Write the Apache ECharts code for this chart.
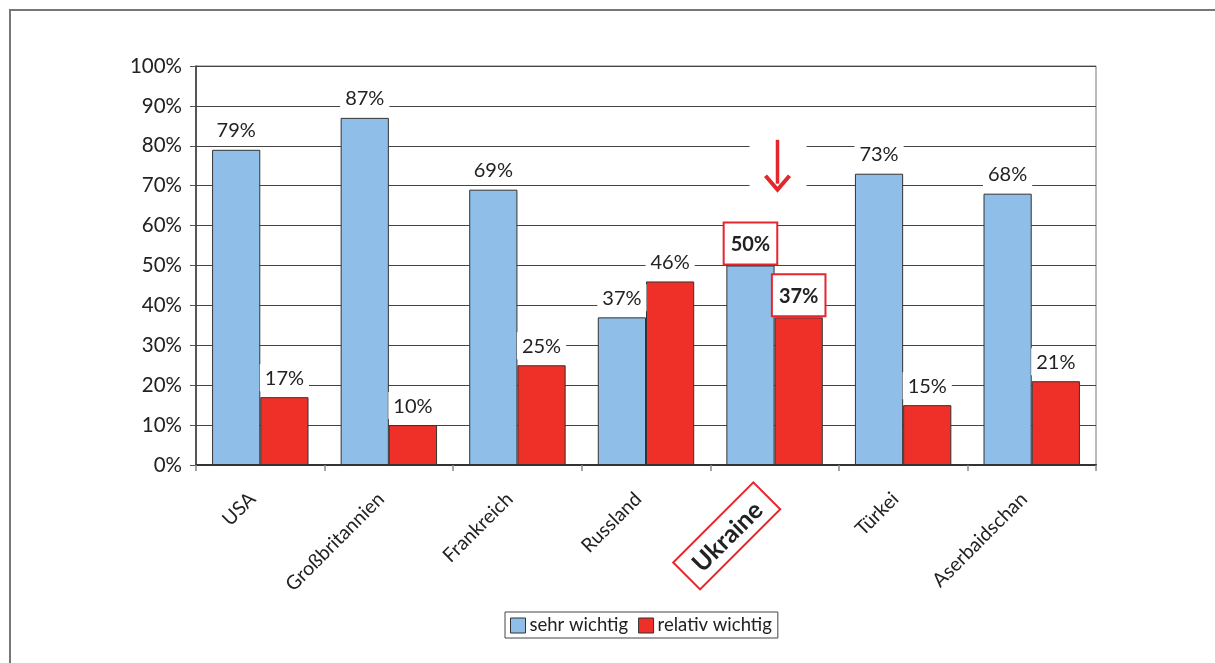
<!DOCTYPE html>
<html>
<head>
<meta charset="utf-8">
<script src="https://cdn.jsdelivr.net/npm/echarts@6/dist/echarts.min.js"></script>
<style>
  html, body { margin: 0; padding: 0; background: #fff; }
  #chart { width: 1215px; height: 663px; }
</style>
</head>
<body>
<div id="chart"></div>
<script>
// Countries on the x axis
const categories = ['USA', 'Großbritannien', 'Frankreich', 'Russland', 'Ukraine', 'Türkei', 'Aserbaidschan'];
// Share of answers (percent)
const sehrWichtig = [79, 87, 69, 37, 50, 73, 68];
const relativWichtig = [17, 10, 25, 46, 37, 15, 21];
const seriesNames = ['sehr wichtig', 'relativ wichtig'];
// Country that is emphasised with framed labels and an arrow
const highlighted = 'Ukraine';

const FONT = 'Lato, "Open Sans", sans-serif';
const BLUE = '#8fbfe8';
const RED = '#ee3029';
const FRAME_RED = '#e5262c';

function toItems(values) {
  return values.map((v, i) => {
    if (categories[i] !== highlighted) return v;
    return {
      value: v,
      label: {
        fontWeight: 'bold',
        fontSize: 20,
        borderColor: FRAME_RED,
        borderWidth: 2,
        padding: [11, 6, 9, 6],
        distance: 2
      }
    };
  });
}

const valueLabel = {
  show: true,
  position: 'top',
  distance: 6,
  formatter: '{c}%',
  fontFamily: FONT,
  fontSize: 20,
  color: '#222',
  backgroundColor: '#fff',
  padding: [4, 5, 3, 5]
};

const chart = echarts.init(document.getElementById('chart'), null, { renderer: 'canvas' });

chart.setOption({
  animation: false,
  backgroundColor: '#fff',
  textStyle: { fontFamily: FONT },
  grid: {
    left: 196, right: 119, top: 66, bottom: 198,
    show: true, borderColor: '#777', borderWidth: 1, backgroundColor: 'transparent'
  },
  legend: {
    data: seriesNames,
    left: 505, top: 612,
    orient: 'horizontal',
    itemWidth: 15, itemHeight: 15, itemGap: 10,
    icon: 'rect',
    borderColor: '#444', borderWidth: 1,
    padding: [4, 6, 3, 5],
    textStyle: { fontFamily: FONT, fontSize: 18.5, color: '#222', padding: [0, 0, 0, -1] },
    itemStyle: { borderColor: '#333', borderWidth: 1 }
  },
  xAxis: {
    type: 'category',
    data: categories,
    boundaryGap: true,
    axisLine: { lineStyle: { color: '#333', width: 2 } },
    axisTick: { show: true, length: 6, lineStyle: { color: '#888', width: 1.5 } },
    axisLabel: {
      rotate: 45,
      margin: 23,
      fontFamily: FONT,
      fontSize: 19.5,
      color: '#222',
      padding: [0, 11, 0, 0],
      formatter: v => v === highlighted ? '{hl|' + v + '}' : v,
      rich: {
        hl: {
          fontFamily: FONT,
          fontSize: 25,
          fontWeight: 'bold',
          color: '#222',
          borderColor: FRAME_RED,
          borderWidth: 2,
          padding: [8, 13, 5, 13]
        }
      }
    }
  },
  yAxis: {
    type: 'value',
    min: 0, max: 100, interval: 10,
    axisLine: { show: true, lineStyle: { color: '#333', width: 1.5 } },
    axisTick: { show: true, inside: false, length: 6, lineStyle: { color: '#555' } },
    splitLine: { show: true, lineStyle: { color: '#444', width: 1 } },
    axisLabel: {
      formatter: '{value}%',
      margin: 14,
      fontFamily: FONT,
      fontSize: 20.5,
      color: '#222'
    }
  },
  series: [
    {
      name: seriesNames[0],
      type: 'bar',
      data: toItems(sehrWichtig),
      barGap: '0%',
      barCategoryGap: '25%',
      itemStyle: { color: BLUE, borderColor: '#333', borderWidth: 1 },
      label: valueLabel
    },
    {
      name: seriesNames[1],
      type: 'bar',
      data: toItems(relativWichtig),
      barGap: '0%',
      barCategoryGap: '25%',
      itemStyle: { color: RED, borderColor: '#333', borderWidth: 1 },
      label: valueLabel
    }
  ]
});

// Arrow pointing down at the highlighted country, plus the page frame
const arrowTopValue = 81.5;
const arrowTipValue = 69;
const arrowStart = chart.convertToPixel({ gridIndex: 0 }, [highlighted, arrowTopValue]);
const arrowEnd = chart.convertToPixel({ gridIndex: 0 }, [highlighted, arrowTipValue]);
const ax = Math.round(arrowStart[0]) + 2.5;
chart.setOption({
  graphic: [
    {
      type: 'polyline',
      shape: { points: [[10, 663], [10, 10], [1215, 10]] },
      style: { stroke: '#777', lineWidth: 2, fill: null },
      silent: true
    },
    {
      type: 'group',
      silent: true,
      children: [
        {
          type: 'rect',
          shape: { x: ax - 28, y: arrowStart[1] - 4, width: 57, height: arrowEnd[1] - arrowStart[1] + 10 },
          style: { fill: '#fff' }
        },
        {
          type: 'line',
          shape: { x1: ax, y1: arrowStart[1], x2: ax, y2: arrowEnd[1] - 6 },
          style: { stroke: FRAME_RED, lineWidth: 3.5 }
        },
        {
          type: 'polyline',
          shape: { points: [[ax - 12, arrowEnd[1] - 14], [ax, arrowEnd[1]], [ax + 12, arrowEnd[1] - 14]] },
          style: { stroke: FRAME_RED, lineWidth: 4, fill: null, lineJoin: 'miter' }
        }
      ]
    }
  ]
});
</script>
</body>
</html>
